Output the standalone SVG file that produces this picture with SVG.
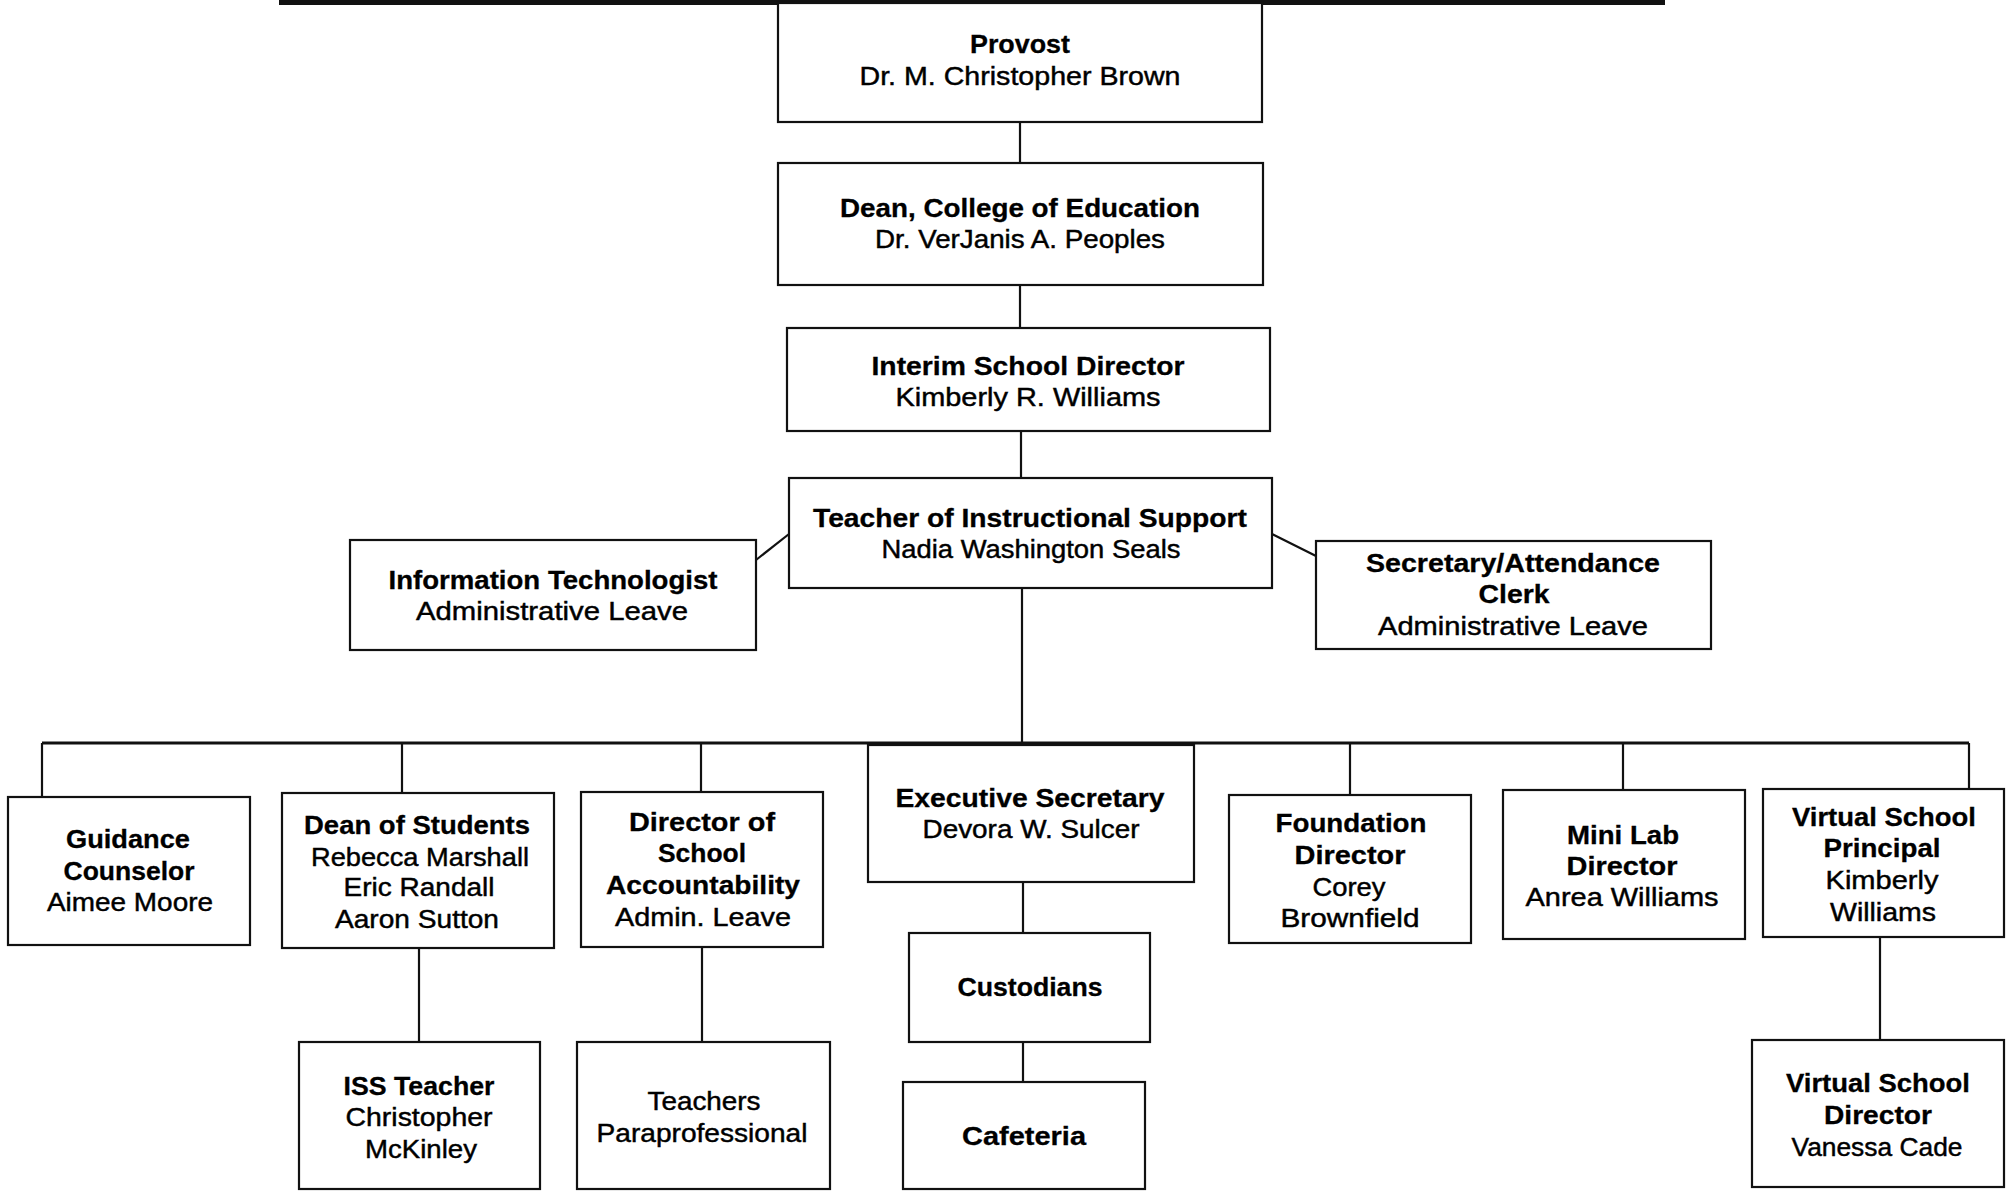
<svg xmlns="http://www.w3.org/2000/svg" width="2008" height="1192" viewBox="0 0 2008 1192">
<style>
rect.box{fill:#fff;stroke:#111;stroke-width:2.2}
.conn line,.conn path{stroke:#111;stroke-width:2.2;fill:none}
text{font-family:"Liberation Sans",Arial,sans-serif;font-size:26px;fill:#000;text-anchor:middle;stroke:#000;stroke-width:0.45}
text.b{font-weight:bold;stroke-width:0.3}
</style>
<rect x="0" y="0" width="2008" height="1192" fill="#fff"/>
<rect id="topbar" x="279" y="0" width="1386" height="5" fill="#111"/>
<g id="connectors" class="conn">
<line x1="1020" y1="122" x2="1020" y2="163"/>
<line x1="1020" y1="285" x2="1020" y2="328"/>
<line x1="1021" y1="431" x2="1021" y2="478"/>
<line x1="789" y1="534" x2="756" y2="560"/>
<line x1="1272" y1="534" x2="1316" y2="556"/>
<line x1="1022" y1="588" x2="1022" y2="743"/>
<line x1="42" y1="743" x2="1969" y2="743" style="stroke-width:3"/>
<line x1="42" y1="743" x2="42" y2="797"/>
<line x1="402" y1="743" x2="402" y2="793"/>
<line x1="701" y1="743" x2="701" y2="792"/>
<line x1="1350" y1="743" x2="1350" y2="795"/>
<line x1="1623" y1="743" x2="1623" y2="790"/>
<line x1="1969" y1="743" x2="1969" y2="789"/>
<line x1="419" y1="948" x2="419" y2="1042"/>
<line x1="702" y1="947" x2="702" y2="1042"/>
<line x1="1023" y1="882" x2="1023" y2="933"/>
<line x1="1023" y1="1042" x2="1023" y2="1082"/>
<line x1="1880" y1="937" x2="1880" y2="1040"/>
</g>
<g id="provost"><rect class="box" x="778" y="3" width="484" height="119"/>
<text class="b" x="1020" y="53" textLength="100" lengthAdjust="spacingAndGlyphs">Provost</text>
<text x="1020" y="85" textLength="321" lengthAdjust="spacingAndGlyphs">Dr. M. Christopher Brown</text></g>
<g id="dean"><rect class="box" x="778" y="163" width="485" height="122"/>
<text class="b" x="1020" y="217" textLength="360" lengthAdjust="spacingAndGlyphs">Dean, College of Education</text>
<text x="1020" y="248" textLength="290" lengthAdjust="spacingAndGlyphs">Dr. VerJanis A. Peoples</text></g>
<g id="interim"><rect class="box" x="787" y="328" width="483" height="103"/>
<text class="b" x="1028" y="375" textLength="313" lengthAdjust="spacingAndGlyphs">Interim School Director</text>
<text x="1028" y="406" textLength="265" lengthAdjust="spacingAndGlyphs">Kimberly R. Williams</text></g>
<g id="teacher-support"><rect class="box" x="789" y="478" width="483" height="110"/>
<text class="b" x="1030" y="527" textLength="434" lengthAdjust="spacingAndGlyphs">Teacher of Instructional Support</text>
<text x="1031" y="558" textLength="299" lengthAdjust="spacingAndGlyphs">Nadia Washington Seals</text></g>
<g id="info-tech"><rect class="box" x="350" y="540" width="406" height="110"/>
<text class="b" x="553" y="589" textLength="329" lengthAdjust="spacingAndGlyphs">Information Technologist</text>
<text x="552" y="620" textLength="272" lengthAdjust="spacingAndGlyphs">Administrative Leave</text></g>
<g id="secretary"><rect class="box" x="1316" y="541" width="395" height="108"/>
<text class="b" x="1513" y="572" textLength="294" lengthAdjust="spacingAndGlyphs">Secretary/Attendance</text>
<text class="b" x="1514" y="603" textLength="71" lengthAdjust="spacingAndGlyphs">Clerk</text>
<text x="1513" y="635" textLength="270" lengthAdjust="spacingAndGlyphs">Administrative Leave</text></g>
<g id="guidance"><rect class="box" x="8" y="797" width="242" height="148"/>
<text class="b" x="128" y="848" textLength="124" lengthAdjust="spacingAndGlyphs">Guidance</text>
<text class="b" x="129" y="880" textLength="131" lengthAdjust="spacingAndGlyphs">Counselor</text>
<text x="130" y="911" textLength="166" lengthAdjust="spacingAndGlyphs">Aimee Moore</text></g>
<g id="dean-students"><rect class="box" x="282" y="793" width="272" height="155"/>
<text class="b" x="417" y="834" textLength="226" lengthAdjust="spacingAndGlyphs">Dean of Students</text>
<text x="420" y="866" textLength="218" lengthAdjust="spacingAndGlyphs">Rebecca Marshall</text>
<text x="419" y="896" textLength="151" lengthAdjust="spacingAndGlyphs">Eric Randall</text>
<text x="417" y="928" textLength="164" lengthAdjust="spacingAndGlyphs">Aaron Sutton</text></g>
<g id="dir-accountability"><rect class="box" x="581" y="792" width="242" height="155"/>
<text class="b" x="702" y="831" textLength="146" lengthAdjust="spacingAndGlyphs">Director of</text>
<text class="b" x="702" y="862" textLength="88" lengthAdjust="spacingAndGlyphs">School</text>
<text class="b" x="703" y="894" textLength="194" lengthAdjust="spacingAndGlyphs">Accountability</text>
<text x="703" y="926" textLength="176" lengthAdjust="spacingAndGlyphs">Admin. Leave</text></g>
<g id="exec-secretary"><rect class="box" x="868" y="745" width="326" height="137"/>
<text class="b" x="1030" y="807" textLength="269" lengthAdjust="spacingAndGlyphs">Executive Secretary</text>
<text x="1031" y="838" textLength="217" lengthAdjust="spacingAndGlyphs">Devora W. Sulcer</text></g>
<g id="foundation"><rect class="box" x="1229" y="795" width="242" height="148"/>
<text class="b" x="1351" y="832" textLength="151" lengthAdjust="spacingAndGlyphs">Foundation</text>
<text class="b" x="1350" y="864" textLength="111" lengthAdjust="spacingAndGlyphs">Director</text>
<text x="1349" y="896" textLength="73" lengthAdjust="spacingAndGlyphs">Corey</text>
<text x="1350" y="927" textLength="139" lengthAdjust="spacingAndGlyphs">Brownfield</text></g>
<g id="mini-lab"><rect class="box" x="1503" y="790" width="242" height="149"/>
<text class="b" x="1623" y="844" textLength="112" lengthAdjust="spacingAndGlyphs">Mini Lab</text>
<text class="b" x="1622" y="875" textLength="111" lengthAdjust="spacingAndGlyphs">Director</text>
<text x="1622" y="906" textLength="193" lengthAdjust="spacingAndGlyphs">Anrea Williams</text></g>
<g id="virtual-principal"><rect class="box" x="1763" y="789" width="241" height="148"/>
<text class="b" x="1884" y="826" textLength="184" lengthAdjust="spacingAndGlyphs">Virtual School</text>
<text class="b" x="1882" y="857" textLength="117" lengthAdjust="spacingAndGlyphs">Principal</text>
<text x="1882" y="889" textLength="113" lengthAdjust="spacingAndGlyphs">Kimberly</text>
<text x="1883" y="921" textLength="106" lengthAdjust="spacingAndGlyphs">Williams</text></g>
<g id="iss-teacher"><rect class="box" x="299" y="1042" width="241" height="147"/>
<text class="b" x="419" y="1095" textLength="151" lengthAdjust="spacingAndGlyphs">ISS Teacher</text>
<text x="419" y="1126" textLength="147" lengthAdjust="spacingAndGlyphs">Christopher</text>
<text x="421" y="1158" textLength="112" lengthAdjust="spacingAndGlyphs">McKinley</text></g>
<g id="teachers"><rect class="box" x="577" y="1042" width="253" height="147"/>
<text x="704" y="1110" textLength="113" lengthAdjust="spacingAndGlyphs">Teachers</text>
<text x="702" y="1142" textLength="211" lengthAdjust="spacingAndGlyphs">Paraprofessional</text></g>
<g id="custodians"><rect class="box" x="909" y="933" width="241" height="109"/>
<text class="b" x="1030" y="996" textLength="145" lengthAdjust="spacingAndGlyphs">Custodians</text></g>
<g id="cafeteria"><rect class="box" x="903" y="1082" width="242" height="107"/>
<text class="b" x="1024" y="1145" textLength="124" lengthAdjust="spacingAndGlyphs">Cafeteria</text></g>
<g id="virtual-director"><rect class="box" x="1752" y="1040" width="252" height="147"/>
<text class="b" x="1878" y="1092" textLength="184" lengthAdjust="spacingAndGlyphs">Virtual School</text>
<text class="b" x="1878" y="1124" textLength="108" lengthAdjust="spacingAndGlyphs">Director</text>
<text x="1877" y="1156" textLength="171" lengthAdjust="spacingAndGlyphs">Vanessa Cade</text></g>
</svg>
